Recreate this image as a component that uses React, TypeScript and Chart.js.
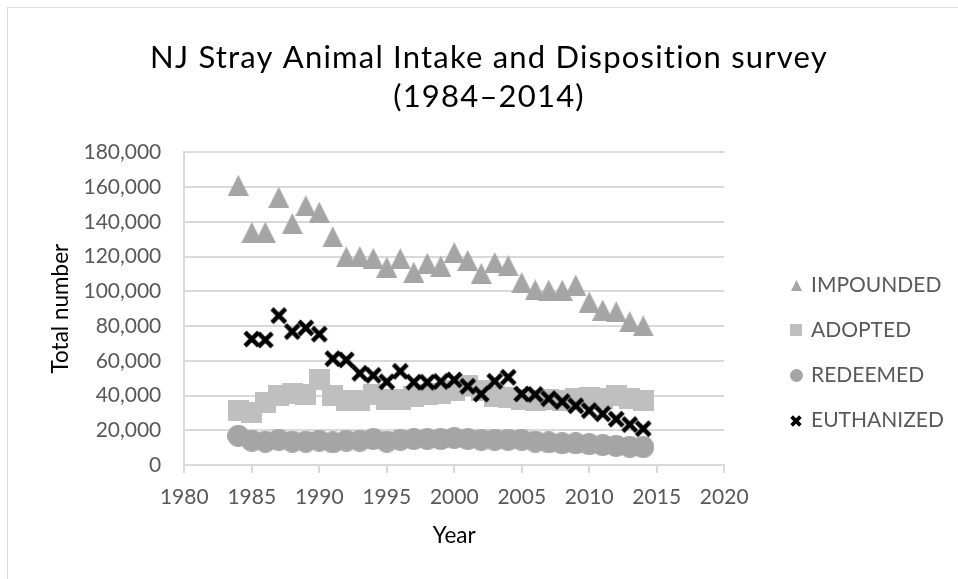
import React, { useEffect, useRef } from 'react';
import { Chart, registerables } from 'chart.js';

Chart.register(...registerables);

// ---------- data ----------
const YEARS = [1984, 1985, 1986, 1987, 1988, 1989, 1990, 1991, 1992, 1993, 1994, 1995, 1996, 1997, 1998, 1999, 2000, 2001, 2002, 2003, 2004, 2005, 2006, 2007, 2008, 2009, 2010, 2011, 2012, 2013, 2014];
const IMPOUNDED = [161000, 133800, 134000, 154100, 139000, 149200, 145500, 131300, 119800, 120000, 119000, 113900, 118800, 110900, 116100, 114500, 122300, 117800, 110300, 116500, 114700, 105000, 100800, 100700, 100600, 103600, 93800, 89200, 88200, 82500, 80100];
const ADOPTED = [31500, 30500, 36000, 40000, 41000, 40500, 49500, 40000, 37000, 37000, 40500, 37500, 37500, 39500, 40500, 41000, 43000, 46000, 43000, 39500, 38800, 37500, 37000, 37500, 37000, 38000, 39000, 38500, 40000, 38000, 37000];
const REDEEMED = [16800, 14000, 13500, 14500, 13500, 13500, 14000, 13000, 14000, 14000, 15000, 13500, 14500, 15000, 15000, 15000, 15500, 15000, 14500, 14500, 14500, 14500, 13500, 13000, 12500, 12500, 12000, 11500, 11000, 10500, 10300];
const EUTHANIZED = [null, 72500, 72000, 86000, 76800, 78900, 75300, 61200, 60500, 52800, 51600, 47900, 53900, 47700, 47600, 48100, 49000, 45300, 40800, 48200, 50500, 40900, 40600, 38200, 36500, 34100, 31300, 29500, 26400, 23300, 20900];

const SERIES_LABELS = ['IMPOUNDED', 'ADOPTED', 'REDEEMED', 'EUTHANIZED'];
const TITLE_LINES = ['NJ Stray Animal Intake and Disposition survey', '(1984–2014)'];
const X_TITLE = 'Year';
const Y_TITLE = 'Total number';
const X_MIN = 1980, X_MAX = 2020, X_STEP = 5;
const Y_MIN = 0, Y_MAX = 180000, Y_STEP = 20000;

// ---------- styling ----------
const FONT = 'Lato';
const CANVAS_W = 964;
const CANVAS_H = 572;
const PLOT_LEFT = 177.3;
const PLOT_TOP = 145.3;
const PLOT_RIGHT = 717.2;
const PLOT_BOTTOM = 458;

function makeMarker(kind: string, size: number, color: string, stroke = 0.22): HTMLCanvasElement {
  const c = document.createElement('canvas');
  const s = Math.round(size);
  c.width = s;
  c.height = s;
  const g = c.getContext('2d') as CanvasRenderingContext2D;
  g.fillStyle = color;
  g.strokeStyle = color;
  if (kind === 'triangle') {
    g.beginPath();
    g.moveTo(0, s);
    g.lineTo(s / 2, 0);
    g.lineTo(s, s);
    g.closePath();
    g.fill();
  } else if (kind === 'square') {
    g.fillRect(0, 0, s, s);
  } else if (kind === 'circle') {
    g.beginPath();
    g.arc(s / 2, s / 2, s / 2, 0, Math.PI * 2);
    g.fill();
  } else {
    const w = s * stroke;
    const m = w * 0.72;
    g.lineWidth = w;
    g.beginPath();
    g.moveTo(m, m);
    g.lineTo(s - m, s - m);
    g.moveTo(s - m, m);
    g.lineTo(m, s - m);
    g.stroke();
  }
  return c;
}

export default function App() {
  const ref = useRef<HTMLCanvasElement>(null);

  useEffect(() => {
    const kinds = ['triangle', 'square', 'circle', 'x'];
    const colors = ['#a5a5a5', '#bfbfbf', '#a5a5a5', '#000000'];
    const dataSizes = [21, 21, 22, 20];
    const legendSizes = [11, 12, 13, 14];
    const dataMarkers = kinds.map((k, i) => makeMarker(k, dataSizes[i], colors[i], 0.22));
    const legendMarkers = kinds.map((k, i) => makeMarker(k, legendSizes[i], colors[i], 0.26));
    const seriesValues = [IMPOUNDED, ADOPTED, REDEEMED, EUTHANIZED];

    const datasets = seriesValues.map((vals, i) => ({
      label: SERIES_LABELS[i],
      data: YEARS.map((yr, j) => ({ x: yr, y: vals[j] })).filter((p) => p.y !== null),
      pointStyle: dataMarkers[i],
      showLine: false,
      order: 3 - i,
    }));

    const sideLegend = {
      id: 'sideLegend',
      afterDraw(chart: any) {
        const { ctx, chartArea } = chart;
        ctx.save();
        ctx.font = `21px ${FONT}`;
        ctx.fillStyle = '#595959';
        ctx.textBaseline = 'middle';
        ctx.textAlign = 'left';
        chart.data.datasets.forEach((ds: any, i: number) => {
          const y = chartArea.top + 132.7 + i * 45.2;
          const img = legendMarkers[i];
          ctx.drawImage(img, Math.round(chartArea.right + 71.8 - img.width / 2), Math.round(y - img.height / 2));
          ctx.fillText(ds.label, chartArea.right + 86.8, y);
        });
        ctx.restore();
      },
    };

    const chartTitle = {
      id: 'chartTitle',
      afterDraw(chart: any) {
        const ctx = chart.ctx as any;
        ctx.save();
        ctx.font = `31px ${FONT}`;
        ctx.fillStyle = '#000000';
        ctx.textAlign = 'center';
        ctx.textBaseline = 'middle';
        ctx.letterSpacing = '1.2px';
        TITLE_LINES.forEach((line, i) => {
          ctx.fillText(line, chart.width / 2, 51 + i * 39);
        });
        ctx.restore();
      },
    };

    const chart = new Chart(ref.current as HTMLCanvasElement, {
      type: 'scatter',
      data: { datasets: datasets as any },
      plugins: [sideLegend, chartTitle],
      options: {
        responsive: false,
        maintainAspectRatio: false,
        animation: false,
        devicePixelRatio: 1,
        layout: { padding: { top: PLOT_TOP, left: 0, right: 0, bottom: 0 } },
        plugins: {
          legend: { display: false },
          tooltip: { enabled: false },
          title: { display: false },
        },
        scales: {
          x: {
            type: 'linear',
            min: X_MIN,
            max: X_MAX,
            ticks: {
              stepSize: X_STEP,
              padding: 12,
              color: '#595959',
              font: { family: FONT, size: 21 },
              maxRotation: 0,
              autoSkip: false,
              callback: (v: any) => String(v),
            },
            grid: { drawOnChartArea: false, drawTicks: true, tickLength: 8, color: '#d9d9d9', lineWidth: 2 },
            border: { display: true, color: '#d9d9d9', width: 2 },
            title: {
              display: true,
              text: X_TITLE,
              color: '#000000',
              font: { family: FONT, size: 22.5 },
              padding: { top: 0, bottom: 30 },
            },
            afterFit: (s: any) => {
              s.height = CANVAS_H - PLOT_BOTTOM;
            },
          },
          y: {
            type: 'linear',
            min: Y_MIN,
            max: Y_MAX,
            ticks: {
              stepSize: Y_STEP,
              padding: 23,
              color: '#595959',
              font: { family: FONT, size: 21 },
              callback: (v: any) => Number(v).toLocaleString('en-US'),
            },
            grid: { color: '#d9d9d9', lineWidth: 2, drawTicks: false },
            border: { display: true, color: '#d9d9d9', width: 2 },
            title: {
              display: true,
              text: Y_TITLE,
              color: '#000000',
              font: { family: FONT, size: 22.5 },
              padding: { top: 40, bottom: 0 },
            },
            afterFit: (s: any) => {
              s.width = PLOT_LEFT;
            },
          },
          yRight: {
            type: 'linear',
            position: 'right',
            display: true,
            ticks: { display: false },
            grid: { display: false, drawTicks: false },
            border: { display: false },
            afterFit: (s: any) => {
              s.width = CANVAS_W - PLOT_RIGHT;
            },
          },
        },
      } as any,
    });
    return () => chart.destroy();
  }, []);

  return (
    <div style={{ position: 'fixed', left: 0, top: 0, width: 958, height: 579, overflow: 'hidden', background: '#ffffff' }}>
      <div style={{ position: 'absolute', left: 7, top: 7, width: 1000, height: 700, border: '1px solid #d9d9d9' }} />
      <canvas
        ref={ref}
        width={CANVAS_W}
        height={CANVAS_H}
        style={{ position: 'absolute', left: 7, top: 7, width: CANVAS_W, height: CANVAS_H }}
      />
    </div>
  );
}
